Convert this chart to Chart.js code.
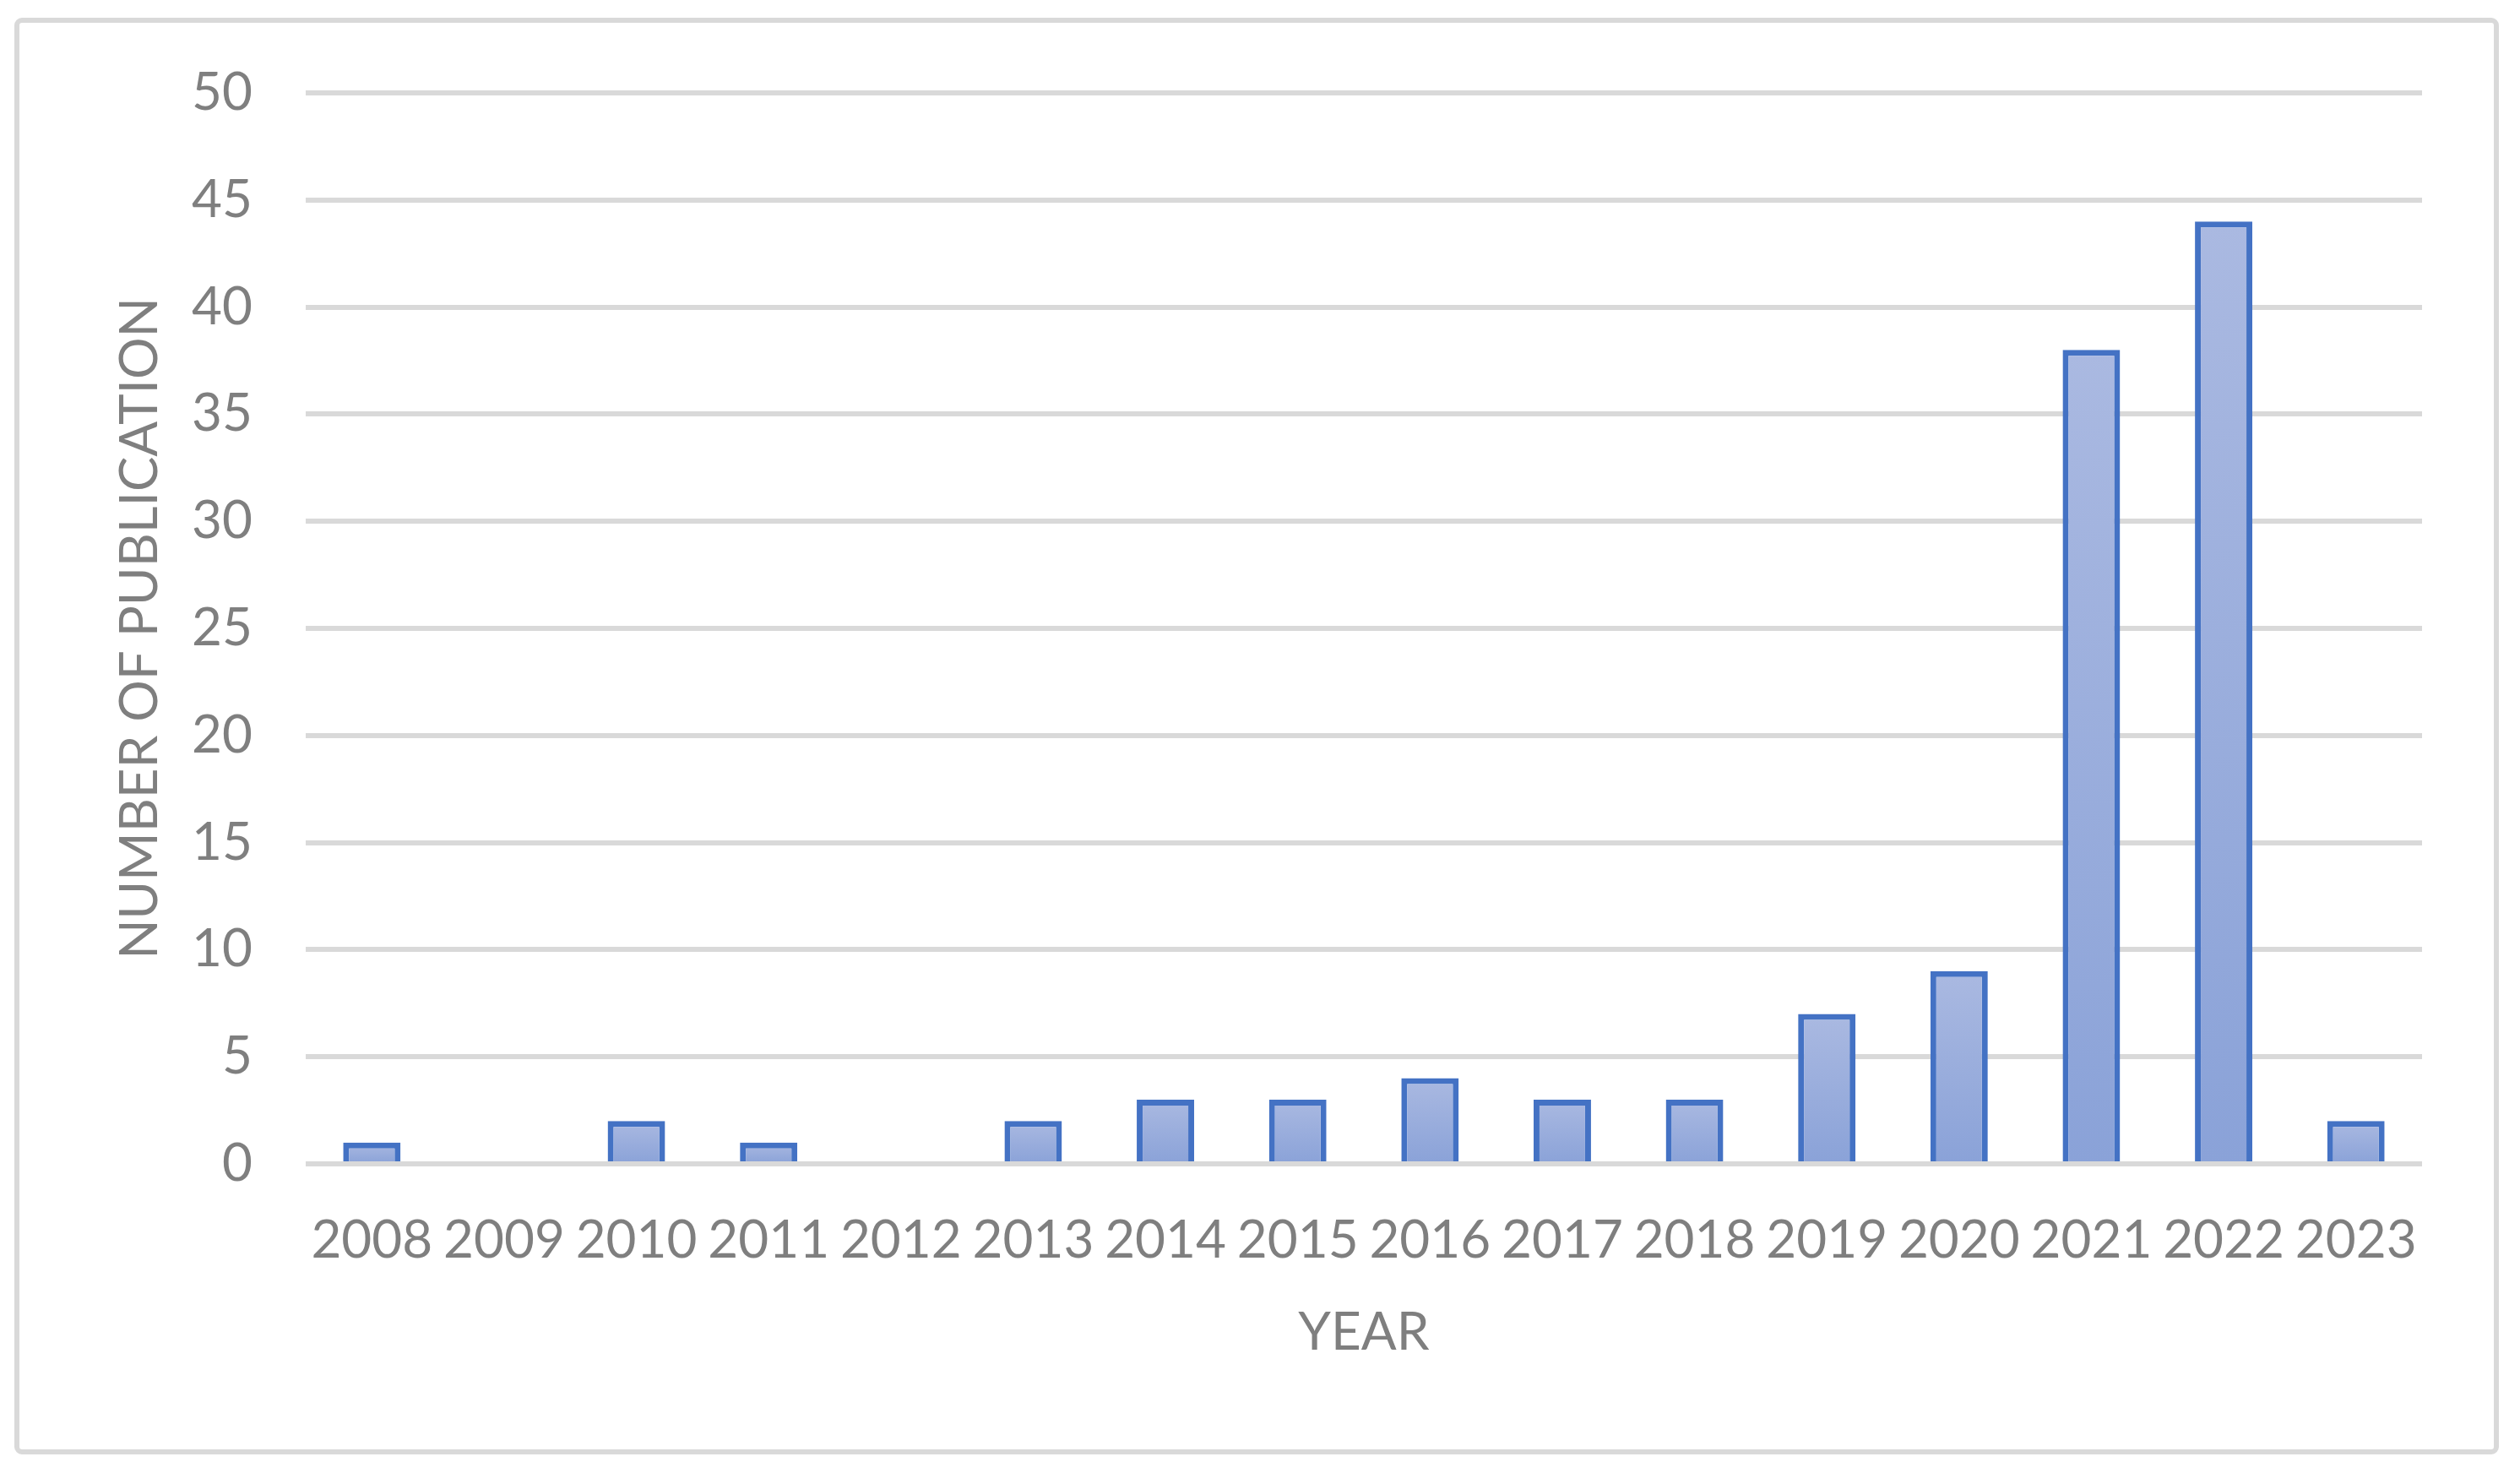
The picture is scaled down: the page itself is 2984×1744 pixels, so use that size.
<!DOCTYPE html>
<html>
<head>
  <meta charset="utf-8">
  <title>Number of publication per year</title>
  <script src="https://cdn.jsdelivr.net/npm/chart.js"></script>
  <style>
    html, body {
      margin: 0;
      padding: 0;
      background: #ffffff;
    }
    .chart-container {
      width: 2984px;
      height: 1744px;
    }
  </style>
</head>
<body>
  <div class="chart-container">
    <canvas id="myChart"></canvas>
  </div>

  <script>
    // Data
    const years = ['2008', '2009', '2010', '2011', '2012', '2013', '2014', '2015',
                   '2016', '2017', '2018', '2019', '2020', '2021', '2022', '2023'];
    const publications = [1, 0, 2, 1, 0, 2, 3, 3, 4, 3, 3, 7, 9, 38, 44, 2];
    const yTicks = [0, 5, 10, 15, 20, 25, 30, 35, 40, 45, 50];

    const textColor = '#7f7f7f';
    const gridColor = '#d9d9d9';
    const barTop = '#aab9e1';
    const barBottom = '#8aa2d8';
    const fontFamily = 'Lato, "Open Sans", sans-serif';

    // Light outer frame around the whole chart, like the Excel chart area
    const framePlugin = {
      id: 'frame',
      beforeDraw(chart) {
        const c = chart.ctx;
        c.save();
        c.fillStyle = '#ffffff';
        c.fillRect(0, 0, chart.width, chart.height);
        c.strokeStyle = gridColor;
        c.lineWidth = 6;
        c.beginPath();
        c.roundRect(20, 24, 2936, 1695, 6);
        c.stroke();
        c.restore();
      }
    };

    // Each bar gets its own vertical gradient, lighter at the top
    function barGradient(context) {
      const chart = context.chart;
      if (!chart.chartArea || context.type !== 'data') {
        return barBottom;
      }
      const y = chart.scales.y;
      const top = y.getPixelForValue(context.raw);
      const base = y.getPixelForValue(0);
      if (!(base > top)) {
        return barBottom;
      }
      const g = chart.ctx.createLinearGradient(0, top, 0, base);
      g.addColorStop(0, barTop);
      g.addColorStop(1, barBottom);
      return g;
    }

    const ctx = document.getElementById('myChart').getContext('2d');

    const myChart = new Chart(ctx, {
      type: 'bar',
      data: {
        labels: years,
        datasets: [{
          label: 'Number of publication',
          data: publications,
          backgroundColor: barGradient,
          borderColor: '#4472c4',
          borderWidth: 7,
          borderSkipped: 'start',
          categoryPercentage: 1,
          barPercentage: 0.434
        }]
      },
      plugins: [framePlugin],
      options: {
        responsive: true,
        maintainAspectRatio: false,
        devicePixelRatio: 1,
        animation: false,
        layout: {
          padding: { left: 100, right: 116, top: 110, bottom: 40 }
        },
        plugins: {
          legend: { display: false },
          tooltip: { enabled: false }
        },
        scales: {
          x: {
            grid: { display: false, drawTicks: false },
            border: { display: false },
            ticks: {
              color: textColor,
              padding: 54,
              maxRotation: 0,
              autoSkip: false,
              font: { family: fontFamily, size: 62 }
            },
            title: {
              display: true,
              text: 'YEAR',
              color: textColor,
              padding: { top: 0, bottom: 89 },
              font: { family: fontFamily, size: 62 }
            },
            afterFit(scale) {
              scale.height = 1744 - 1378 - 40;
            }
          },
          y: {
            min: 0,
            max: 50,
            grid: { color: gridColor, lineWidth: 6, drawTicks: false },
            border: { display: false },
            afterBuildTicks(scale) {
              scale.ticks = yTicks.map(v => ({ value: v }));
            },
            ticks: {
              color: textColor,
              padding: 63,
              font: { family: fontFamily, size: 62 }
            },
            title: {
              display: true,
              text: 'NUMBER OF PUBLICATION',
              color: textColor,
              padding: { top: 29, bottom: 0 },
              font: { family: fontFamily, size: 62 }
            },
            afterFit(scale) {
              scale.width = 362 - 100;
            }
          }
        }
      }
    });
  </script>
</body>
</html>
